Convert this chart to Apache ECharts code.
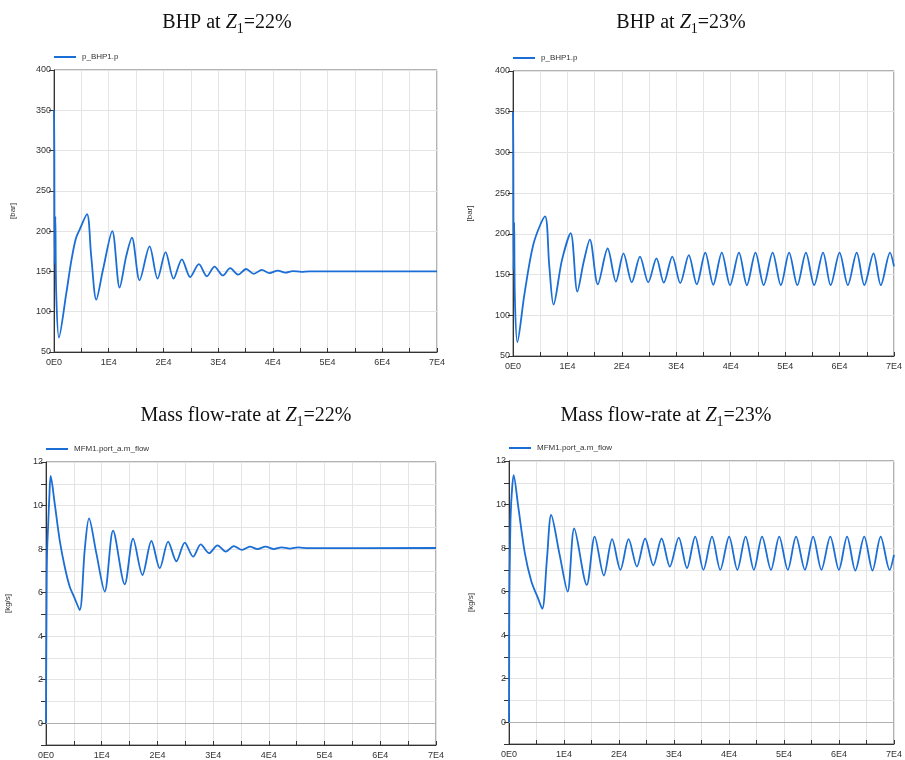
<!DOCTYPE html>
<html><head><meta charset="utf-8">
<script src="https://cdn.jsdelivr.net/npm/echarts@6/dist/echarts.min.js"></script>
<style>html,body{margin:0;padding:0;background:#fff}#c{width:905px;height:760px}</style>
</head><body><div id="c"></div>
<script>
// time [s], value pairs
const bhp22 = [[0,350],[60,300],[120,160],[250,218],[400,125],[900,68],[2250,123],[3160,163],[3960,190],[4690,202],[6030,221],[6800,169],[7730,115],[8950,152],[10650,200],[11990,130],[13200,169],[14240,192],[15640,139],[17470,181],[18930,141],[20390,174],[21850,141],[23370,165],[24890,143],[26480,159],[27940,144],[29340,156],[30860,145],[32200,154],[33660,146],[35120,153],[36520,147],[37980,152],[39380,148],[40900,151],[42300,148.5],[43640,150.5],[45160,149.5],[46680,150],[70000,150]];
const bhp23 = [[0,350],[60,300],[120,155],[220,214],[350,120],[800,67],[2120,127],[3820,189],[5880,221.5],[6650,162],[7450,113],[9000,168],[10600,201],[11820,129],[13000,166],[14120,193],[15580,138],[17390,182],[18910,141.5],[20300,176],[21820,140.5],[23330,172],[24850,140.5],[26360,170],[27700,140],[29270,172],[30730,139.5],[32300,174],[33760,138],[35330,177],[36790,137.5],[38360,177],[39880,137],[41520,177],[42970,137],[44550,177],[46060,137],[47700,177],[49210,137],[50730,177],[52240,137],[53820,177],[55330,137],[56970,177],[58360,137],[60000,177],[61520,137],[63150,177],[64550,137],[66240,176],[67580,137],[69270,177],[70000,160]];
const flow22 = [[0,0],[30,2],[100,5.3],[180,7.7],[420,9.3],[600,10.4],[840,11.36],[1560,10.1],[2460,8.4],[3350,7.2],[4250,6.28],[5150,5.74],[6050,5.2],[6950,7.96],[7720,9.41],[9040,7.8],[10540,6.05],[12040,8.85],[14130,6.38],[15630,8.48],[17310,6.81],[18920,8.37],[20420,7.12],[21920,8.34],[23410,7.44],[24910,8.30],[26410,7.65],[27780,8.22],[29280,7.81],[30780,8.17],[32280,7.88],[33710,8.14],[35210,7.96],[36590,8.11],[37960,8.0],[39400,8.11],[40900,8.0],[42280,8.08],[43770,8.02],[45270,8.08],[47070,8.04],[70000,8.05]];
const flow23 = [[0,0],[30,2],[60,5.5],[180,7.9],[300,9.5],[500,10.5],[840,11.35],[1680,9.9],[2880,7.77],[4070,6.47],[5270,5.7],[6050,5.21],[6900,7.5],[7670,9.52],[9200,7.7],[10660,6.0],[11860,8.9],[14140,6.31],[15580,8.53],[17250,6.74],[18750,8.41],[20250,7.0],[21750,8.41],[23250,7.15],[24750,8.44],[26240,7.2],[27740,8.44],[29240,7.15],[30860,8.48],[32360,7.08],[33850,8.53],[35350,7.0],[36910,8.53],[38410,7.0],[40020,8.53],[41520,7.0],[43020,8.53],[44520,7.0],[46010,8.53],[47630,7.0],[49130,8.53],[50690,7.0],[52190,8.53],[53800,7.0],[55300,8.53],[56800,7.0],[58420,8.53],[59980,7.0],[61470,8.53],[62970,6.97],[64590,8.53],[66090,6.97],[67580,8.53],[69200,7.0],[70000,7.69]];

const titles = ['BHP at ', 'BHP at ', 'Mass flow-rate at ', 'Mass flow-rate at '];
const pcts = ['=22%', '=23%', '=22%', '=23%'];
const seriesNames = ['p_BHP1.p', 'p_BHP1.p', 'MFM1.port_a.m_flow', 'MFM1.port_a.m_flow'];
const yNames = ['[bar]', '[bar]', '[kg/s]', '[kg/s]'];
const seriesData = [bhp22, bhp23, flow22, flow23];

const LINE = '#1a6ed6';
const SANS = '"Liberation Sans", Arial, sans-serif';
const SERIF = '"Liberation Serif", "DejaVu Serif", serif';
const grids = [
  {left: 54, top: 70, width: 383, height: 282},
  {left: 513, top: 71, width: 385, height: 285},
  {left: 46, top: 462, width: 390, height: 283},
  {left: 509, top: 461, width: 389, height: 283}
];
const titlePos = [[227, 24], [681, 24], [246, 417], [666, 417]];
const nameGaps = [37, 39, 34, 34];

const chart = echarts.init(document.getElementById('c'), null, {renderer: 'canvas'});
const xFmt = v => v % 10000 === 0 ? (v === 0 ? '0E0' : (v / 10000) + 'E4') : '';

const option = {
  animation: false,
  backgroundColor: '#fff',
  grid: grids.map(g => Object.assign({show: true, borderColor: '#666', borderWidth: 1, backgroundColor: 'transparent'}, g)),
  legend: grids.map((g, i) => ({
    left: g.left, top: g.top - 17, data: [seriesNames[i]], icon: 'rect', itemWidth: 22, itemHeight: 2,
    itemGap: 5, padding: 0, textStyle: {fontSize: 8, color: '#333', fontFamily: SANS, padding: [0, 0, 0, 1]}
  })),
  xAxis: grids.map((g, i) => ({
    type: 'value', gridIndex: i, min: 0, max: 70000, interval: 5000,
    axisLine: {show: true, onZero: false, lineStyle: {color: '#333', width: 1}},
    axisTick: {show: true, inside: true, length: 4, lineStyle: {color: '#333'}},
    axisLabel: {formatter: xFmt, fontSize: 9, color: '#333', fontFamily: SANS, margin: 6},
    splitLine: {show: true, lineStyle: {color: '#e4e4e4', width: 1}}
  })),
  yAxis: grids.map((g, i) => {
    const top = i < 2;
    return {
      type: 'value', gridIndex: i,
      min: top ? 50 : -1, max: top ? 400 : 12, interval: top ? 50 : 1,
      name: yNames[i], nameLocation: 'middle', nameGap: nameGaps[i],
      nameTextStyle: {fontSize: 8, color: '#333', fontFamily: SANS},
      axisLine: {show: true, onZero: false, lineStyle: {color: '#333', width: 1}},
      axisTick: {show: true, inside: false, length: 5, lineStyle: {color: '#333'}},
      axisLabel: {fontSize: 9, color: '#333', fontFamily: SANS, margin: 3,
        formatter: top ? (v => String(v)) : (v => (v % 2 === 0 ? String(v) : ''))},
      splitLine: {show: true, lineStyle: {color: '#e4e4e4', width: 1}}
    };
  }),
  series: seriesData.map((d, i) => {
    const s = {
      type: 'line', name: seriesNames[i], xAxisIndex: i, yAxisIndex: i, data: d,
      showSymbol: false, symbol: 'none', smooth: 0.3,
      lineStyle: {color: LINE, width: 1.8}, itemStyle: {color: LINE}, clip: true
    };
    if (i >= 2) {
      s.markLine = {silent: true, symbol: 'none', label: {show: false}, animation: false,
        lineStyle: {color: '#b0b0b0', type: 'solid', width: 1}, data: [{yAxis: 0}]};
    }
    return s;
  }),
  graphic: titlePos.map((p, i) => ({
    type: 'text', x: p[0], y: p[1], silent: true,
    style: {
      text: '{n|' + titles[i] + '}{i|Z}{s|1}{n|' + pcts[i] + '}',
      align: 'center', verticalAlign: 'middle', fill: '#111',
      rich: {
        n: {fontSize: 20, fontFamily: SERIF, lineHeight: 22, verticalAlign: 'top', fill: '#111'},
        i: {fontSize: 20, fontFamily: SERIF, fontStyle: 'italic', lineHeight: 22, verticalAlign: 'top', fill: '#111'},
        s: {fontSize: 14, fontFamily: SERIF, lineHeight: 14, padding: [9, 0, 0, 0], verticalAlign: 'top', fill: '#111'}
      }
    }
  }))
};
chart.setOption(option);
</script>
</body></html>
